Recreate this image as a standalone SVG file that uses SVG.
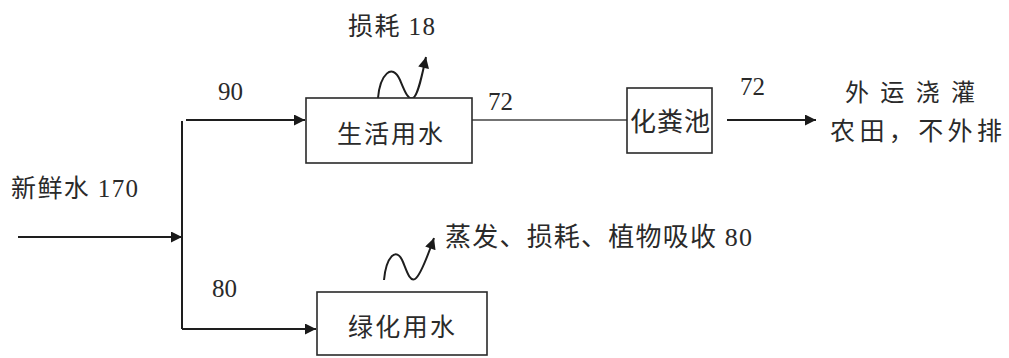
<svg xmlns="http://www.w3.org/2000/svg" width="1009" height="358" viewBox="0 0 1009 358">
<style>
text{font-family:"Liberation Serif","Noto Sans CJK SC",serif;fill:#2a2a2a;font-size:25px}
.box{fill:#fff;stroke:#2a2a2a;stroke-width:1.6}
.ln{fill:none;stroke:#1e1e1e;stroke-width:2}
.thin{fill:none;stroke:#444;stroke-width:1.6}
</style>
<defs>
<marker id="ah" viewBox="0 0 10 10" refX="10" refY="5" markerWidth="13" markerHeight="11" markerUnits="userSpaceOnUse" orient="auto">
<path d="M0,0 L10,5 L0,10 z" fill="#1a1a1a"/>
</marker>
</defs>
<g id="connectors">
<path class="ln" d="M18,237 H182" marker-end="url(#ah)"/>
<path class="ln" d="M182,121 V329"/>
<path class="ln" d="M186,120 H305" marker-end="url(#ah)"/>
<path class="ln" d="M182,329 H316" marker-end="url(#ah)"/>
<path class="thin" d="M472,120 H627"/>
<path class="ln" d="M727,120 H816" marker-end="url(#ah)"/>
<path class="ln" d="M378,98 C380,75 392,62 400,80 C405,92 408,100 413,98 C418,96 422,75 426,57" marker-end="url(#ah)"/>
<path class="ln" d="M384,280 C386,258 396,245 403,262 C407,272 410,282 415,279 C420,276 427,258 434,238" marker-end="url(#ah)"/>
</g>
<g id="n-fresh"><text x="11" y="197" textLength="127">新鲜水 170</text></g>
<g id="l-90"><text x="218" y="100">90</text></g>
<g id="l-80"><text x="212" y="297">80</text></g>
<g id="n-domestic">
<rect class="box" x="306" y="98" width="166" height="65"/>
<text x="337" y="143" textLength="106">生活用水</text>
</g>
<g id="l-loss18"><text x="348" y="35" textLength="87">损耗 18</text></g>
<g id="l-72a"><text x="488" y="110">72</text></g>
<g id="n-septic">
<rect class="box" x="627" y="88" width="85" height="65"/>
<text x="630" y="131" textLength="80" style="font-size:26px">化粪池</text>
</g>
<g id="l-72b"><text x="740" y="95">72</text></g>
<g id="n-out">
<text x="845" y="101" textLength="130" style="font-size:24px">外运浇灌</text>
<text x="830" y="140" textLength="172">农田，不外排</text>
</g>
<g id="n-green">
<rect class="box" x="317" y="292" width="170" height="63"/>
<text x="348" y="336" textLength="107">绿化用水</text>
</g>
<g id="l-evap"><text x="445" y="246" textLength="307" style="font-size:26px">蒸发、损耗、植物吸收 80</text></g>
</svg>
